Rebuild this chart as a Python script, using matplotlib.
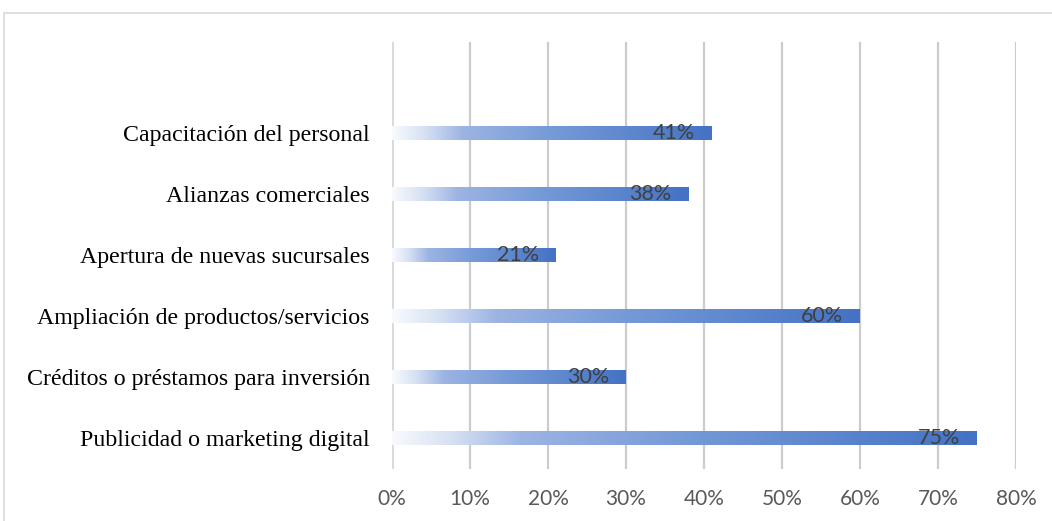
#!/usr/bin/env python3
import matplotlib
matplotlib.use("Agg")
import matplotlib.pyplot as plt
import numpy as np
from matplotlib.colors import LinearSegmentedColormap
from matplotlib.patches import Rectangle

# data, bottom to top as drawn
categories = ['Publicidad o marketing digital',
              'Créditos o préstamos para inversión',
              'Ampliación de productos/servicios',
              'Apertura de nuevas sucursales',
              'Alianzas comerciales',
              'Capacitación del personal']
values = [75, 30, 60, 21, 38, 41]
xticks = [0, 10, 20, 30, 40, 50, 60, 70, 80]

W, H = 1052, 521
fig = plt.figure(figsize=(W / 100, H / 100), dpi=100)
ax = fig.add_axes([392 / W, (H - 468.5) / H, (1016 - 392) / W, (468.5 - 41.5) / H])

# outer chart border (runs off the right and bottom edges)
fig.patches.append(Rectangle((4 / W, -0.1), 1.2, (H - 12.5) / H + 0.1,
                             transform=fig.transFigure, fill=False,
                             edgecolor='#d9d9d9', lw=1.2))

# white -> blue gradient along each bar
cmap = LinearSegmentedColormap.from_list('grad', [
    (0.0, '#f8fafd'), (0.1, '#d7e1f4'), (0.22, '#9db4e3'),
    (0.5, '#759ad7'), (1.0, '#4472c4')])
grad = np.linspace(0, 1, 256).reshape(1, -1)

ypos = np.arange(len(categories))
bh = 0.23
for y, v in zip(ypos, values):
    bar = ax.barh(y, v, height=bh, color='none', edgecolor='none', zorder=3)[0]
    im = ax.imshow(grad, cmap=cmap, aspect='auto', zorder=3,
                   extent=(0, v, y - bh / 2, y + bh / 2), interpolation='bilinear')
    im.set_clip_path(bar)
    ax.annotate('%d%%' % v, xy=(v, y), xytext=(-12, 0), textcoords='offset points',
                ha='right', va='center', fontsize=15.5, color='#404040',
                family='Lato', zorder=5)

# gridlines
for t in xticks:
    if t == 0:
        ax.axvline(t, color='#d9d9d9', lw=2.8, zorder=1)
    else:
        ax.axvline(t, color='#cccccc', lw=1.6, zorder=1)

ax.set_xlim(0, 80)
ax.set_ylim(-0.5, 6.5)
ax.set_xticks(xticks)
ax.set_xticklabels(['%d%%' % t for t in xticks], family='Lato', fontsize=15, color='#595959')
ax.set_yticks(ypos)
ax.set_yticklabels(categories, family='Liberation Serif', fontsize=17.2, color='#000000')
ax.tick_params(axis='x', length=0, pad=15)
ax.tick_params(axis='y', length=0, pad=16)
for s in ax.spines.values():
    s.set_visible(False)

fig.savefig('out.png', dpi=100)
